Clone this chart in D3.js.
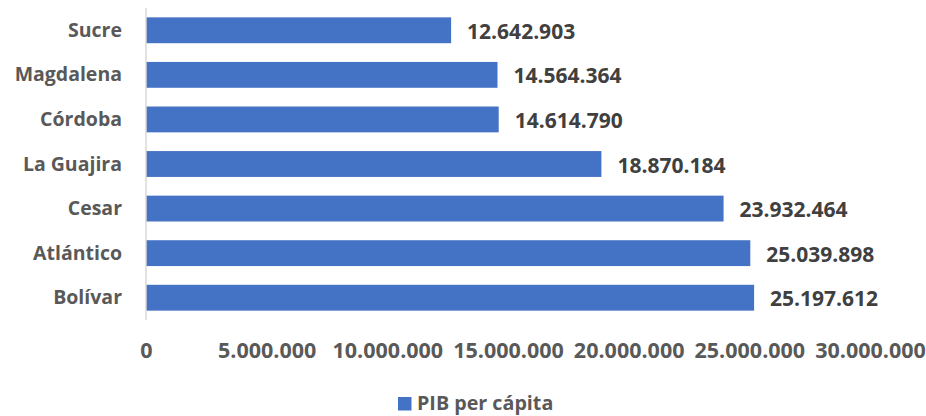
<!DOCTYPE html>
<html><head><meta charset="utf-8">
<script src="https://cdn.jsdelivr.net/npm/d3@7"></script>
<style>body{margin:0;background:#fff}svg{display:block}</style>
</head><body>
<script>
const categories = ["Sucre","Magdalena","Córdoba","La Guajira","Cesar","Atlántico","Bolívar"];
const values = [12642903,14564364,14614790,18870184,23932464,25039898,25197612];
const ticks = [0,5000000,10000000,15000000,20000000,25000000,30000000];
const seriesName = "PIB per cápita";

const W=926,H=416;
const fmt = d => d3.format(",")(d).replace(/,/g,".");
const svg = d3.select("body").append("svg").attr("width",W).attr("height",H);
const font = "'Open Sans', sans-serif";
const x = d3.scaleLinear().domain([0,30000000]).range([146,870]);
const y = d3.scaleBand().domain(categories).range([8,320]).paddingInner(0.42).paddingOuter(0.21);

svg.selectAll("rect.bar").data(values).join("rect").attr("class","bar")
  .attr("x",x(0)).attr("y",(d,i)=>y(categories[i]))
  .attr("width",d=>x(d)-x(0)).attr("height",y.bandwidth())
  .attr("fill","#4472C4");

svg.append("line").attr("x1",x(0)).attr("x2",x(0)).attr("y1",8).attr("y2",320)
  .attr("stroke","#d9d9d9").attr("stroke-width",1.5);

svg.selectAll("text.val").data(values).join("text").attr("class","val")
  .attr("x",d=>x(d)+16).attr("y",(d,i)=>y(categories[i])+y.bandwidth()/2+8.5)
  .attr("font-family",font).attr("font-weight","bold")
  .attr("font-size",21).attr("fill","#404040").text(d=>fmt(d));

svg.selectAll("text.cat").data(categories).join("text").attr("class","cat")
  .attr("x",122).attr("y",d=>y(d)+y.bandwidth()/2+6.5)
  .attr("text-anchor","end").attr("font-family",font).attr("font-weight","bold")
  .attr("font-size",19.5).attr("fill","#595959").text(d=>d);

const ax = svg.append("g").attr("transform","translate(0,0)")
  .call(d3.axisBottom(x).tickValues(ticks).tickSize(0).tickFormat(fmt));
ax.select(".domain").remove();
ax.selectAll("text").attr("font-family",font).attr("font-weight","bold")
  .attr("font-size",21.5).attr("fill","#595959").attr("dy",null).attr("y",358);

const lg = svg.append("g");
lg.append("rect").attr("x",398).attr("y",397).attr("width",13.5).attr("height",13.5).attr("fill","#4472C4");
lg.append("text").attr("x",417).attr("y",410).attr("font-family",font)
  .attr("font-weight","bold").attr("font-size",19.7).attr("fill","#595959").text(seriesName);
</script>
</body></html>
